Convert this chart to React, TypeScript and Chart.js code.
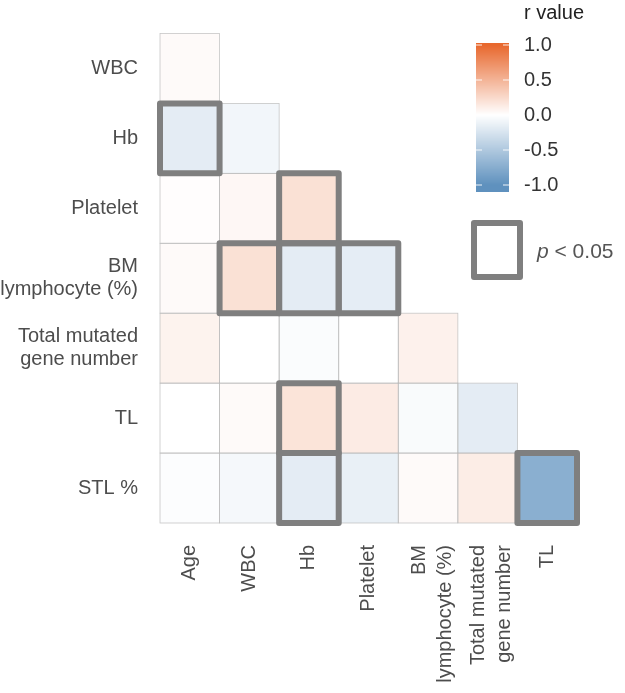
import React, { useEffect, useRef } from "react";
import { Chart, registerables } from "chart.js";

Chart.register(...registerables);

// ---------- data ----------
const rowLabels: (string | string[])[] = [
  "WBC",
  "Hb",
  "Platelet",
  ["BM", "lymphocyte (%)"],
  ["Total mutated", "gene number"],
  "TL",
  "STL %",
];

const colLabels: (string | string[])[] = [
  "Age",
  "WBC",
  "Hb",
  "Platelet",
  ["BM", "lymphocyte (%)"],
  ["Total mutated", "gene number"],
  "TL",
];

// r values, lower triangle (row i has i+1 entries, columns in colLabels order)
const rWBC = [0.03];
const rHb = [-0.17, -0.08];
const rPlatelet = [0.01, 0.05, 0.2];
const rBM = [0.03, 0.2, -0.17, -0.16];
const rTotal = [0.08, 0.0, -0.03, 0.0, 0.09];
const rTL = [0.0, 0.03, 0.18, 0.13, -0.04, -0.17];
const rSTL = [-0.02, -0.06, -0.17, -0.14, 0.03, 0.12, -0.73];
const rValues: number[][] = [rWBC, rHb, rPlatelet, rBM, rTotal, rTL, rSTL];

// significant cells (p < 0.05): [rowIndex, colIndex]
const significantCells: [number, number][] = [
  [1, 0],
  [2, 2],
  [3, 1],
  [3, 2],
  [3, 3],
  [5, 2],
  [6, 2],
  [6, 6],
];

const legendTicks = [1.0, 0.5, 0.0, -0.5, -1.0];
const legendTitle = "r value";

// ---------- styles ----------
const HIGH = [232, 104, 45];
const LOW = [95, 145, 190];
const FONT = "'Liberation Sans', Arial, Helvetica, sans-serif";
const BOX_COLOR = "#7f7f7f";
const MULTILINE_X_SHIFT = 9;

function colorFor(r: number): string {
  const c = r >= 0 ? HIGH : LOW;
  const t = Math.min(1, Math.abs(r));
  const m = c.map((v) => Math.round(255 + (v - 255) * t));
  return `rgb(${m[0]},${m[1]},${m[2]})`;
}

const overlayPlugin = {
  id: "overlay",
  afterLayout(chart: any) {
    // nudge multi-line rotated x labels so the line pair is centred on its column
    const xs = chart.scales.x;
    const items = xs.getLabelItems(chart.chartArea);
    items.forEach((it: any) => {
      if (Array.isArray(it.label) && it.label.length > 1 && !it._shifted) {
        it.options.translation[0] -= MULTILINE_X_SHIFT;
        it._shifted = true;
      }
    });
  },
  afterDatasetsDraw(chart: any) {
    const ctx = chart.ctx;
    const cellRect = (i: number, j: number) => {
      const el = chart.getDatasetMeta(i).data[j] as any;
      const left = el.x - el.width / 2;
      const top = Math.min(el.y, el.base);
      const h = Math.abs(el.base - el.y);
      return { left, top, w: el.width, h };
    };
    ctx.save();
    // cell outlines
    ctx.strokeStyle = "rgba(185,185,185,0.8)";
    ctx.lineWidth = 0.8;
    rValues.forEach((row, i) => {
      row.forEach((_, j) => {
        const r = cellRect(i, j);
        ctx.strokeRect(r.left, r.top, r.w, r.h);
      });
    });
    // significance boxes
    ctx.strokeStyle = BOX_COLOR;
    ctx.lineWidth = 6;
    ctx.lineJoin = "round";
    significantCells.forEach(([i, j]) => {
      const r = cellRect(i, j);
      ctx.strokeRect(r.left, r.top, r.w, r.h);
    });
    ctx.restore();
  },
  afterDraw(chart: any) {
    const ctx = chart.ctx;
    ctx.save();
    // title
    ctx.fillStyle = "#222";
    ctx.font = `20px ${FONT}`;
    ctx.textAlign = "left";
    ctx.textBaseline = "middle";
    ctx.fillText(legendTitle, 524, 13);
    // colorbar
    const bx = 476, bw = 33, top = 43, bottom = 192;
    const zeroY = 115, perUnit = 70;
    for (let y = top; y < bottom; y++) {
      const v = (zeroY - (y + 0.5)) / perUnit;
      ctx.fillStyle = colorFor(Math.max(-1, Math.min(1, v)));
      ctx.fillRect(bx, y, bw, 1);
    }
    ctx.strokeStyle = "rgba(255,255,255,0.9)";
    ctx.lineWidth = 1;
    ctx.fillStyle = "#333";
    legendTicks.forEach((v) => {
      const y = zeroY - v * perUnit;
      ctx.beginPath();
      ctx.moveTo(bx, y);
      ctx.lineTo(bx + 6, y);
      ctx.moveTo(bx + bw - 6, y);
      ctx.lineTo(bx + bw, y);
      ctx.stroke();
      ctx.fillText(v.toFixed(1), 524, y);
    });
    // p < 0.05 key
    ctx.strokeStyle = BOX_COLOR;
    ctx.lineWidth = 6;
    ctx.lineJoin = "round";
    ctx.strokeRect(474, 223, 46, 54);
    ctx.fillStyle = "#555";
    ctx.font = `italic 21px ${FONT}`;
    ctx.fillText("p", 537, 252);
    const pw = ctx.measureText("p").width;
    ctx.font = `21px ${FONT}`;
    ctx.fillText(" < 0.05", 537 + pw, 252);
    ctx.restore();
  },
};

export default function App() {
  const ref = useRef<HTMLCanvasElement>(null);
  useEffect(() => {
    if (!ref.current) return;
    const datasets = rowLabels.map((lab, i) => ({
      label: Array.isArray(lab) ? lab.join(" ") : lab,
      data: colLabels.map((_, j) => (j <= i ? [i, i + 1] : null)),
      backgroundColor: colLabels.map((_, j) =>
        j <= i ? colorFor(rValues[i][j]) : "rgba(0,0,0,0)"
      ),
      borderWidth: 0,
      barPercentage: 1,
      categoryPercentage: 1,
      grouped: false,
      inflateAmount: 0,
    }));
    const chart = new Chart(ref.current, {
      type: "bar",
      data: { labels: colLabels as any, datasets: datasets as any },
      options: {
        responsive: false,
        animation: false,
        layout: { padding: { top: 28, right: 48, left: 0, bottom: 0 } },
        plugins: { legend: { display: false }, tooltip: { enabled: false } },
        scales: {
          x: {
            type: "category",
            offset: true,
            grid: { display: false, drawTicks: false },
            border: { display: false },
            ticks: {
              autoSkip: false,
              minRotation: 90,
              maxRotation: 90,
              padding: 22,
              color: "#4d4d4d",
              font: { family: FONT, size: 20, lineHeight: 1.3 },
            },
            afterFit: (s: any) => {
              s.height = 170;
            },
          },
          y: {
            type: "linear",
            min: 0,
            max: rowLabels.length,
            reverse: true,
            grid: { display: false, drawTicks: false },
            border: { display: false },
            afterBuildTicks: (s: any) => {
              s.ticks = rowLabels.map((_, i) => ({ value: i + 0.5 }));
            },
            ticks: {
              padding: 22,
              color: "#4d4d4d",
              font: { family: FONT, size: 20, lineHeight: 1.15 },
              callback: (_v: any, idx: number) => rowLabels[idx] as any,
            },
            afterFit: (s: any) => {
              s.width = 160;
            },
          },
        },
      },
      plugins: [overlayPlugin],
    });
    return () => chart.destroy();
  }, []);
  return (
    <div style={{ position: "absolute", left: 0, top: 0, width: 625, height: 693, background: "#fff" }}>
      <canvas ref={ref} width={625} height={693} style={{ width: 625, height: 693, display: "block" }} />
    </div>
  );
}
